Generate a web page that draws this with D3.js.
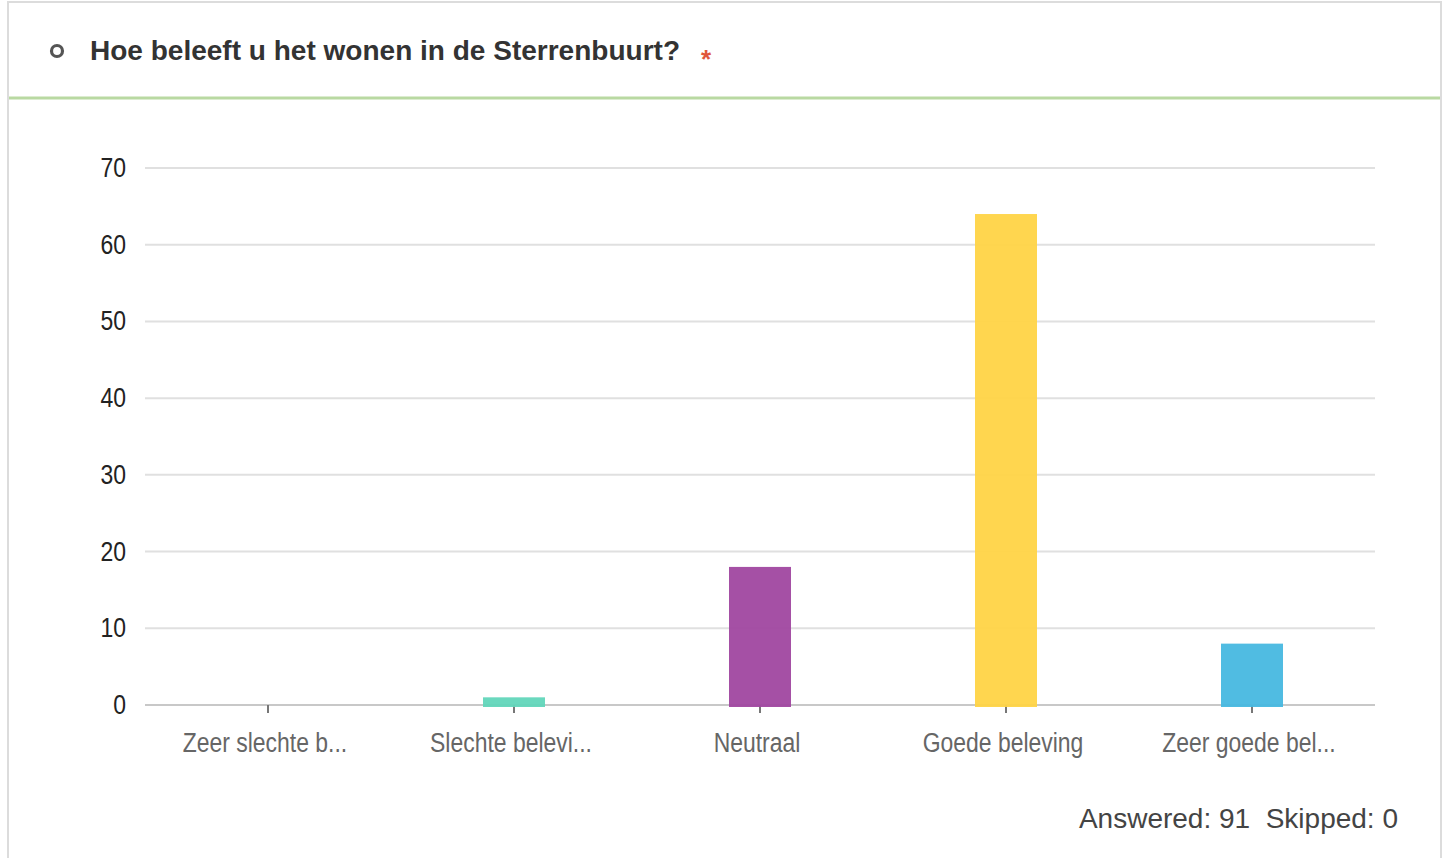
<!DOCTYPE html>
<html>
<head>
<meta charset="utf-8">
<script src="https://d3js.org/d3.v7.min.js"></script>
<style>
  html, body { margin: 0; padding: 0; background: #fff; }
  svg { display: block; font-family: "Liberation Sans", Arial, sans-serif; }
</style>
</head>
<body>
<div id="chart"></div>
<script>
// Data
const categories = ['Zeer slechte b...', 'Slechte belevi...', 'Neutraal', 'Goede beleving', 'Zeer goede bel...'];
const values = [0, 1, 18, 64, 8];
const barColors = ['#62D6BA', '#62D6BA', '#A047A0', '#FFD446', '#47B8E0'];
const yTicks = [0, 10, 20, 30, 40, 50, 60, 70];
const title = 'Hoe beleeft u het wonen in de Sterrenbuurt?';
const answered = 91;
const skipped = 0;

const width = 1449, height = 858;
const margin = { top: 168, right: 74, bottom: 153, left: 145 };
const squeeze = 0.85;

const svg = d3.select('#chart').append('svg')
    .attr('width', width)
    .attr('height', height);

// Card frame
svg.append('rect')
    .attr('x', 8).attr('y', 2)
    .attr('width', 1433).attr('height', height + 10)
    .attr('fill', '#fff')
    .attr('stroke', '#dcdcdc')
    .attr('stroke-width', 2);

svg.append('line')
    .attr('x1', 9).attr('x2', 1440)
    .attr('y1', 98).attr('y2', 98)
    .attr('stroke', '#b9d9a2')
    .attr('stroke-width', 3);

// Header
svg.append('circle')
    .attr('cx', 57).attr('cy', 51).attr('r', 5.5)
    .attr('fill', 'none')
    .attr('stroke', '#555')
    .attr('stroke-width', 3.2);

svg.append('text')
    .attr('x', 90).attr('y', 60)
    .attr('font-size', 27)
    .attr('font-weight', 'bold')
    .attr('fill', '#333')
    .attr('textLength', 590)
    .attr('lengthAdjust', 'spacingAndGlyphs')
    .text(title);

svg.append('text')
    .attr('x', 706).attr('y', 68)
    .attr('text-anchor', 'middle')
    .attr('font-size', 26)
    .attr('font-weight', 'bold')
    .attr('fill', '#e0573a')
    .text('*');

// Scales
const x = d3.scaleBand()
    .domain(categories)
    .range([margin.left, width - margin.right]);

const y = d3.scaleLinear()
    .domain([0, 70])
    .range([height - margin.bottom, margin.top]);

const barWidth = x.bandwidth() * 0.252;

// Gridlines
svg.append('g')
    .selectAll('line')
    .data(yTicks.filter(d => d > 0))
    .enter().append('line')
    .attr('x1', margin.left).attr('x2', width - margin.right)
    .attr('y1', d => y(d)).attr('y2', d => y(d))
    .attr('stroke', '#e0e0e0')
    .attr('stroke-width', 2);

// Y labels
svg.append('g')
    .selectAll('text')
    .data(yTicks)
    .enter().append('text')
    .attr('transform', d => `translate(126, ${y(d) + 9}) scale(${squeeze}, 1)`)
    .attr('text-anchor', 'end')
    .attr('font-size', 27)
    .attr('fill', '#222')
    .text(d => d);

// X axis line
svg.append('line')
    .attr('x1', margin.left).attr('x2', width - margin.right)
    .attr('y1', y(0)).attr('y2', y(0))
    .attr('stroke', '#c8c8c8')
    .attr('stroke-width', 2);

// Ticks
svg.append('g')
    .selectAll('line')
    .data(categories)
    .enter().append('line')
    .attr('x1', d => x(d) + x.bandwidth() / 2)
    .attr('x2', d => x(d) + x.bandwidth() / 2)
    .attr('y1', y(0)).attr('y2', y(0) + 8)
    .attr('stroke', '#777')
    .attr('stroke-width', 2);

// Bars
svg.append('g')
    .selectAll('rect')
    .data(values)
    .enter().append('rect')
    .attr('x', (d, i) => x(categories[i]) + x.bandwidth() / 2 - barWidth / 2)
    .attr('y', d => y(d))
    .attr('width', barWidth)
    .attr('height', d => d > 0 ? y(0) - y(d) + 2 : 0)
    .attr('fill', (d, i) => barColors[i])
    .attr('fill-opacity', 0.95);

// X labels
svg.append('g')
    .selectAll('text')
    .data(categories)
    .enter().append('text')
    .attr('transform', d => `translate(${x(d) + x.bandwidth() / 2 - 3}, 752) scale(${squeeze}, 1)`)
    .attr('text-anchor', 'middle')
    .attr('font-size', 27)
    .attr('fill', '#666')
    .text(d => d);

// Footer
svg.append('text')
    .attr('x', 1398).attr('y', 828)
    .attr('text-anchor', 'end')
    .attr('font-size', 28)
    .attr('fill', '#444')
    .attr('xml:space', 'preserve')
    .style('white-space', 'pre')
    .text(`Answered: ${answered}  Skipped: ${skipped}`);
</script>
</body>
</html>
